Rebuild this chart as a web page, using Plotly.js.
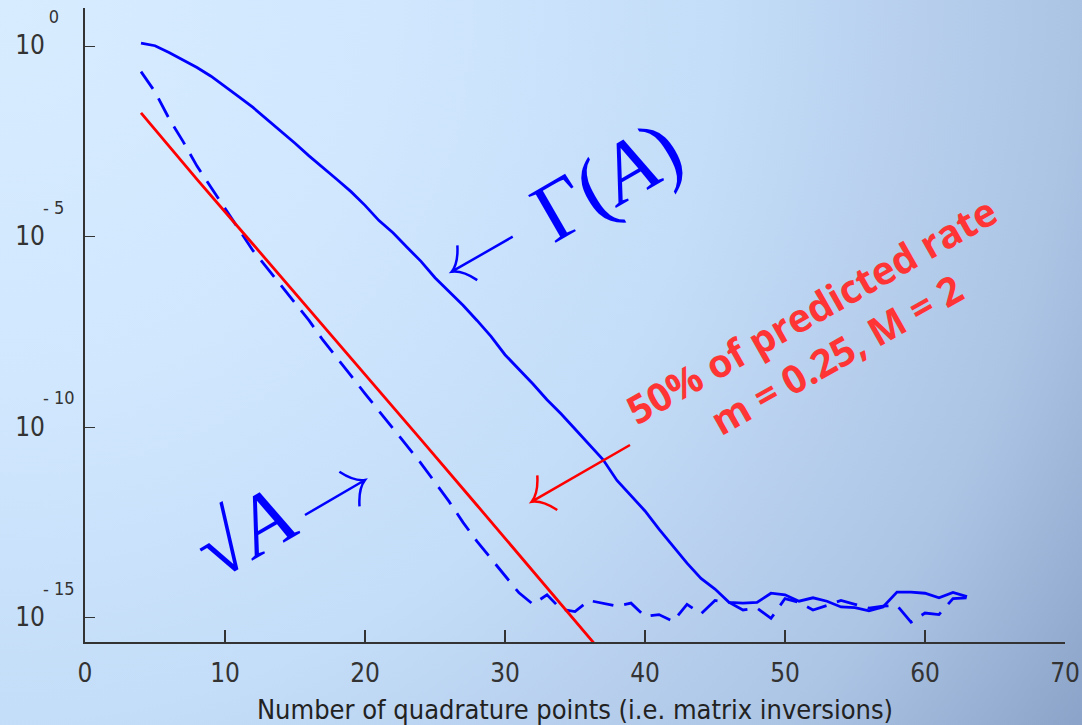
<!DOCTYPE html>
<html><head><meta charset="utf-8">
<script src="https://cdn.plot.ly/plotly-3.0.1.min.js"></script>
<style>
html,body{margin:0;padding:0;}
body{width:1082px;height:725px;overflow:hidden;
background:radial-gradient(circle 1302px at 0 0,#d8ecff 0%,#d0e7fe 30%,#c4ddf8 55%,#adc5e5 82%,#8ba3c8 100%);}
#chart{width:1082px;height:725px;}
</style></head><body><div id="chart"></div>
<script>
// Number of quadrature points
const quadPoints = [4,5,6,7,8,9,10,11,12,13,14,15,16,17,18,19,20,21,22,23,24,25,26,27,28,29,30,31,32,33,
  34,35,36,37,38,39,40,41,42,43,44,45,46,47,48,49,50,51,52,53,54,55,56,57,58,59,60,61,62,63];
// log10 of error, Gamma(A) (solid blue)
const gammaLog10 = [0.08,0.01,-0.17,-0.36,-0.56,-0.79,-1.05,-1.33,-1.61,-1.92,-2.22,-2.55,-2.88,-3.18,-3.5,-3.82,
  -4.18,-4.58,-4.9,-5.28,-5.65,-6.08,-6.45,-6.8,-7.2,-7.62,-8.1,-8.48,-8.87,-9.28,-9.65,-10.05,-10.45,-10.85,
  -11.4,-11.8,-12.2,-12.68,-13.13,-13.57,-13.97,-14.25,-14.6,-14.62,-14.6,-14.36,-14.4,-14.57,-14.48,-14.57,
  -14.72,-14.74,-14.82,-14.72,-14.33,-14.33,-14.36,-14.48,-14.34,-14.45];
// log10 of error, sqrt(A) (dashed blue)
const sqrtLog10 = [-0.67,-1.2,-1.9,-2.5,-3.15,-3.7,-4.25,-4.8,-5.37,-5.82,-6.27,-6.73,-7.2,-7.72,-8.2,-8.65,
  -9.12,-9.57,-10.02,-10.48,-10.95,-11.45,-11.95,-12.5,-13.0,-13.45,-13.9,-14.35,-14.65,-14.4,-14.78,-14.84,
  -14.55,-14.62,-14.7,-14.62,-14.97,-14.92,-15.1,-14.65,-14.9,-14.55,-14.6,-14.8,-14.75,-15.02,-14.5,-14.6,
  -14.8,-14.68,-14.55,-14.65,-14.75,-14.7,-14.68,-15.12,-14.88,-14.92,-14.5,-14.48];
// predicted rate line (red)
const rateX = [4,8,12,16,20,24,28,32,36,37];
const rateLog10 = [-1.75,-3.5,-5.2,-6.9,-8.62,-10.33,-12.05,-13.78,-15.5,-15.95];
// ticks
const xTickVals = [0,10,20,30,40,50,60,70];
const yTickVals = [1,1e-5,1e-10,1e-15];
const yTickExps = ['0','- 5','- 10','- 15'];
const xTitle = 'Number of quadrature points (i.e. matrix inversions)';
const gammaLabel = 'Γ(<i>A</i>)';
const sqrtLabel = '√<i>A</i>';
const rateLabel = '50% of predicted rate<br>m = 0.25, M = 2';

const toVal = a => a.map(v => Math.pow(10, v));
const NB = '\u00a0';
const expPad = {'0': 3, '- 5': 2, '- 10': 0, '- 15': 0};
const yTickText = yTickExps.map(e =>
  '<span style="font-size:18px">' + e + NB.repeat(expPad[e]) + '</span><br>' +
  '<span style="font-size:26px">10' + NB.repeat(4) + '</span><br>' + NB);

const tickFont = 'DejaVu Sans Condensed, DejaVu Sans, sans-serif';

const traces = [
  {x: quadPoints, y: toVal(gammaLog10), mode: 'lines', line: {color: '#0000ff', width: 2.8}, hoverinfo: 'skip'},
  {x: quadPoints, y: toVal(sqrtLog10), mode: 'lines', line: {color: '#0000ff', width: 2.8, dash: '21px,11px'}, hoverinfo: 'skip'},
  {x: rateX, y: toVal(rateLog10), mode: 'lines', line: {color: '#ff0000', width: 2.8}, hoverinfo: 'skip'}
];

// pixel -> paper helpers for decorations
const L = 85, R = 1065, T = 8, B = 642;
const px = x => (x - L) / (R - L);
const py = y => (B - y) / (B - T);
function arrowPath(tip, tail, back, out, cb, co) {
  const dx = tail[0] - tip[0], dy = tail[1] - tip[1];
  const len = Math.hypot(dx, dy);
  const u = [dx / len, dy / len], n = [u[1], -u[0]];
  const pt = (a, b) => [tip[0] + a * u[0] + b * n[0], tip[1] + a * u[1] + b * n[1]];
  const f = p => px(p[0]).toFixed(5) + ',' + py(p[1]).toFixed(5);
  const b1 = pt(back, out), c1 = pt(cb, co), b2 = pt(back, -out), c2 = pt(cb, -co);
  return 'M' + f(tail) + ' L' + f(tip) + ' M' + f(b1) + ' Q' + f(c1) + ' ' + f(tip) + ' Q' + f(c2) + ' ' + f(b2);
}
const shapes = [
  {type: 'path', xref: 'paper', yref: 'paper', path: arrowPath([451.7, 271.7], [512.7, 236.7], 18, 20, 10, 4), line: {color: '#0000ff', width: 2.5}},
  {type: 'path', xref: 'paper', yref: 'paper', path: arrowPath([365, 480], [305, 515], 18, 20, 10, 4), line: {color: '#0000ff', width: 2.5}},
  {type: 'path', xref: 'paper', yref: 'paper', path: arrowPath([531.7, 501.7], [630, 445], 18, 20, 10, 4), line: {color: '#ff0000', width: 2.5}}
];
const annotations = [
  {xref: 'paper', yref: 'paper', x: px(606.7), y: py(181), text: gammaLabel, showarrow: false, textangle: -30,
   xanchor: 'center', yanchor: 'middle', font: {family: 'Liberation Serif, DejaVu Serif, serif', size: 84, color: '#0000ff'}},
  {xref: 'paper', yref: 'paper', x: px(244), y: py(532), text: sqrtLabel, showarrow: false, textangle: -30,
   xanchor: 'center', yanchor: 'middle', font: {family: 'Liberation Serif, DejaVu Serif, serif', size: 84, color: '#0000ff'}},
  {xref: 'paper', yref: 'paper', x: px(823), y: py(332), text: rateLabel, showarrow: false, textangle: -29.5,
   xanchor: 'center', yanchor: 'middle', font: {family: 'Open Sans, Lato, sans-serif', size: 39, color: '#ff3535', weight: 'bold'}}
];

const layout = {
  width: 1082, height: 725,
  margin: {l: L, r: 1082 - R, t: T, b: 725 - B, pad: 0},
  paper_bgcolor: 'rgba(0,0,0,0)', plot_bgcolor: 'rgba(0,0,0,0)',
  showlegend: false,
  xaxis: {range: [0, 70], tickmode: 'array', tickvals: xTickVals, ticks: 'inside', ticklen: 12, tickwidth: 1.2,
    tickcolor: '#333', showline: true, linecolor: '#333', linewidth: 1.6, showgrid: false, zeroline: false,
    tickfont: {family: tickFont, size: 26, color: '#333'}, ticklabelstandoff: 7, automargin: false,
    title: {text: xTitle, font: {family: tickFont, size: 27, color: '#222'}, standoff: 16}},
  yaxis: {type: 'log', range: [-15.64, 1.0], tickmode: 'array', tickvals: yTickVals, ticktext: yTickText,
    ticks: 'inside', ticklen: 10, tickwidth: 1.2, tickcolor: '#333', showline: true, linecolor: '#333', linewidth: 1.6,
    showgrid: false, zeroline: false, tickfont: {family: tickFont, size: 24, color: '#333'}, ticklabelstandoff: 4,
    automargin: false},
  shapes: shapes,
  annotations: annotations
};
Plotly.newPlot('chart', traces, layout, {staticPlot: true, displayModeBar: false});
</script>
</body></html>
